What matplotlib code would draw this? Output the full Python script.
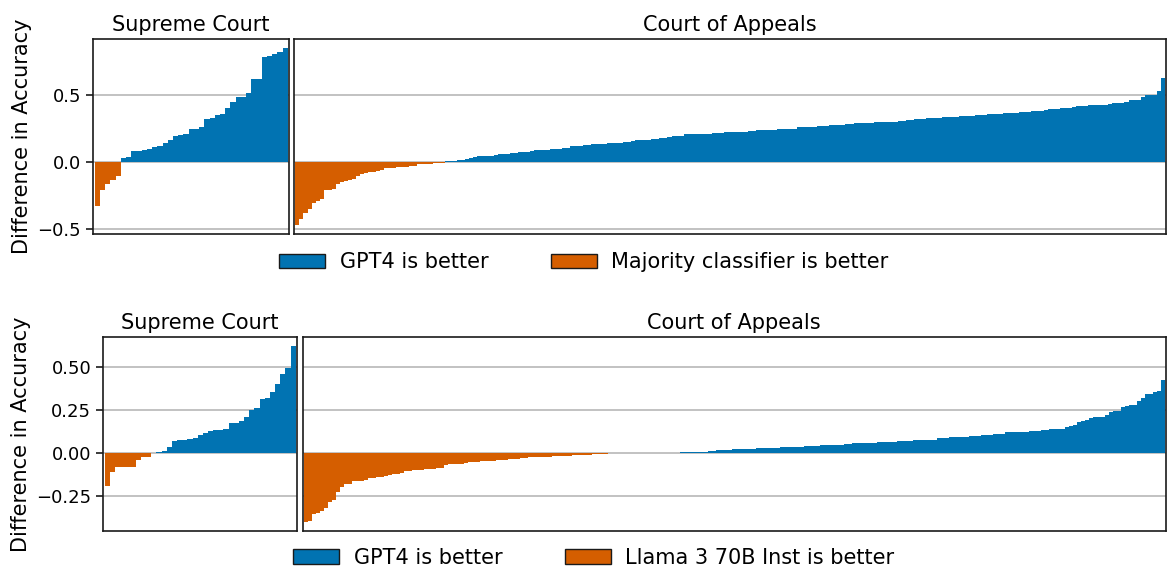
import numpy as np
import matplotlib.pyplot as plt
from matplotlib.patches import Patch

blue = "#0173B2"
orange = "#D55E00"

# --- GPT4 vs majority classifier (sorted per-case accuracy differences) ---
sc_majority = [-0.33, -0.21, -0.166, -0.13, -0.10,
               0.032, 0.04, 0.084, 0.084, 0.094, 0.10, 0.114, 0.12, 0.144, 0.166,
               0.196, 0.203, 0.21, 0.248, 0.248, 0.262, 0.32, 0.33, 0.35, 0.36,
               0.40, 0.45, 0.485, 0.485, 0.515, 0.62, 0.62, 0.78, 0.79, 0.805,
               0.82, 0.85]

# court of appeals: heights of the sorted steps and how many cases share each
ca_majority_heights = [-0.470, -0.426, -0.381, -0.351, -0.307, -0.292, -0.277, -0.210,
                       -0.203, -0.166, -0.151, -0.144, -0.136, -0.129, -0.106, -0.092,
                       -0.084, -0.077, -0.069, -0.062, -0.047, -0.040, -0.032, -0.017,
                       -0.010, -0.003,
                       0.010, 0.017, 0.025, 0.032, 0.040, 0.047, 0.054, 0.062, 0.070, 0.077,
                       0.084, 0.092, 0.099, 0.106, 0.120, 0.129, 0.136, 0.144, 0.151, 0.158,
                       0.166, 0.173, 0.180, 0.188, 0.196, 0.210, 0.218, 0.225, 0.232, 0.240,
                       0.248, 0.262, 0.270, 0.277, 0.285, 0.292, 0.300, 0.307, 0.314, 0.320,
                       0.330, 0.337, 0.344, 0.351, 0.360, 0.366, 0.374, 0.381, 0.389, 0.396,
                       0.403, 0.410, 0.418, 0.426, 0.433, 0.440, 0.448, 0.463, 0.485, 0.500,
                       0.530, 0.626]
ca_majority_counts = [1, 1, 1, 1, 1, 1, 1, 2, 1, 1, 1, 1, 1, 1, 1, 1, 1, 2, 1, 1, 3, 3, 2, 4, 1, 2,
                      3, 2, 1, 1, 1, 4, 1, 3, 2, 3,
                      1, 4, 3, 2, 3, 2, 4, 4, 2, 1,
                      4, 2, 2, 1, 3, 7, 3, 6, 2, 5,
                      5, 5, 3, 4, 2, 5, 6, 2, 2, 3,
                      4, 4, 4, 3, 4, 4, 3, 3, 1, 3,
                      3, 1, 3, 5, 1, 3, 1, 3, 1, 3,
                      1, 1]

# --- GPT4 vs Llama 3 70B Inst ---
sc_llama = [-0.195, -0.113, -0.084, -0.084, -0.084, -0.079, -0.043, -0.024, -0.024, 0.0,
            0.007, 0.013, 0.033, 0.067, 0.073, 0.073, 0.079, 0.085, 0.102, 0.114,
            0.126, 0.132, 0.132, 0.138, 0.173, 0.173, 0.185, 0.208, 0.249, 0.26,
            0.313, 0.319, 0.354, 0.40, 0.459, 0.494, 0.623]

ca_llama_heights = [-0.403, -0.397, -0.356, -0.350, -0.335, -0.321, -0.286, -0.274, -0.228, -0.198,
                    -0.181, -0.163, -0.158, -0.146, -0.140, -0.134, -0.128, -0.123, -0.117, -0.105,
                    -0.099, -0.093, -0.088, -0.070, -0.064, -0.058, -0.053, -0.047, -0.041, -0.035,
                    -0.029, -0.023, -0.018, -0.012, -0.006, 0.0,
                    0.006, 0.012, 0.018, 0.023, 0.029, 0.035, 0.041, 0.047, 0.053, 0.058,
                    0.064, 0.070, 0.076, 0.088, 0.093, 0.099, 0.105, 0.111, 0.123, 0.128,
                    0.134, 0.140, 0.152, 0.158, 0.163, 0.181, 0.187, 0.193, 0.204, 0.210,
                    0.222, 0.239, 0.245, 0.268, 0.274, 0.280, 0.303, 0.321, 0.344, 0.356,
                    0.362, 0.426]
ca_llama_counts = [1, 1, 1, 1, 1, 1, 1, 1, 1, 1,
                   2, 3, 1, 2, 2, 1, 1, 2, 1, 2,
                   3, 3, 2, 1, 4, 1, 3, 4, 3, 3,
                   2, 6, 5, 5, 4, 18,
                   7, 2, 4, 6, 6, 6, 4, 6, 2, 6,
                   5, 4, 6, 3, 5, 3, 3, 3, 6, 3,
                   2, 4, 1, 1, 1, 1, 1, 1, 1, 3,
                   1, 1, 2, 1, 1, 2, 1, 1, 2, 1,
                   1, 1]

ca_majority = np.repeat(ca_majority_heights, ca_majority_counts)
ca_llama = np.repeat(ca_llama_heights, ca_llama_counts)


def bars(ax, vals):
    vals = np.asarray(vals)
    colors = [blue if v > 0 else orange for v in vals]
    ax.bar(np.arange(len(vals)), vals, width=1.0, color=colors, linewidth=0)
    ax.set_xlim(-0.85, len(vals) - 0.25)
    ax.set_xticks([])
    ax.yaxis.grid(True, color="#b8b8b8", linewidth=1.2)
    ax.set_axisbelow(True)
    for s in ax.spines.values():
        s.set_color("#1a1a1a")
        s.set_linewidth(1.2)


def row(fig, rect_sc, rect_ca, sc_vals, ca_vals, yticks, other, legend_xy):
    ax1 = fig.add_axes(rect_sc)
    ax2 = fig.add_axes(rect_ca, sharey=ax1)
    bars(ax1, sc_vals)
    bars(ax2, ca_vals)
    ax1.set_yticks(yticks)
    ax1.tick_params(axis="y", labelsize=13, length=5, width=1.2, color="#1a1a1a")
    ax2.tick_params(axis="y", left=False, labelleft=False)
    ax1.set_title("Supreme Court", fontsize=15)
    ax2.set_title("Court of Appeals", fontsize=15)
    ax1.set_ylabel("Difference in Accuracy", fontsize=15)
    handles = [Patch(facecolor=blue, edgecolor="#1a1a1a", linewidth=1, label="GPT4 is better"),
               Patch(facecolor=orange, edgecolor="#1a1a1a", linewidth=1, label=other)]
    fig.legend(handles=handles, loc="center", bbox_to_anchor=legend_xy, ncol=2,
               frameon=False, fontsize=15, columnspacing=3.0, handletextpad=0.7,
               handlelength=2.2)


fig = plt.figure(figsize=(11.67, 5.71), dpi=100)
row(fig, [0.0797, 0.590, 0.168, 0.3415], [0.2519, 0.590, 0.7472, 0.3415],
    sc_majority, ca_majority, [-0.5, 0.0, 0.5], "Majority classifier is better", (0.5004, 0.541))
row(fig, [0.0883, 0.070, 0.1662, 0.3398], [0.2594, 0.070, 0.7395, 0.3398],
    sc_llama, ca_llama, [-0.25, 0.0, 0.25, 0.5], "Llama 3 70B Inst is better", (0.509, 0.023))
fig.savefig("out.png", dpi=100)
